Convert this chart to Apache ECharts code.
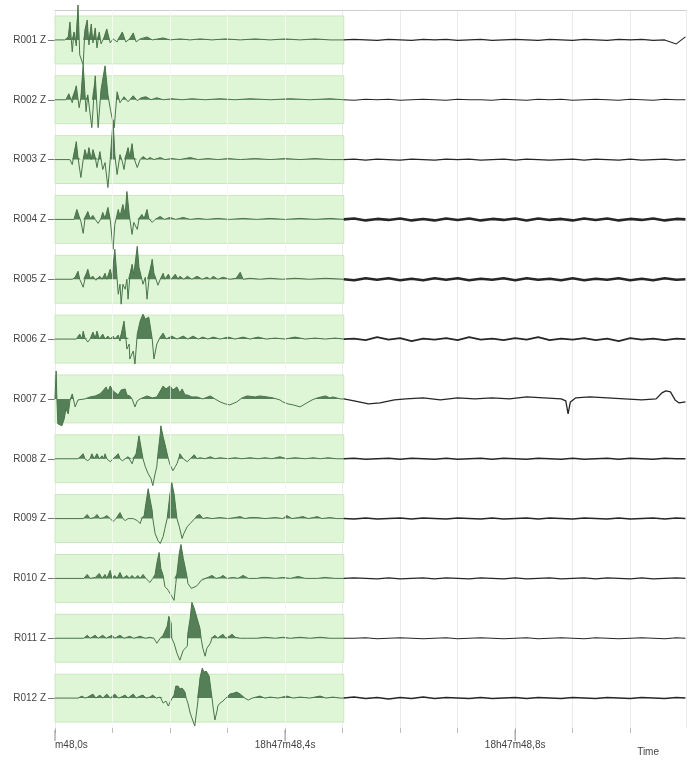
<!DOCTYPE html>
<html><head><meta charset="utf-8">
<script src="https://cdn.jsdelivr.net/npm/echarts@6/dist/echarts.min.js"></script>
<style>html,body{margin:0;padding:0;background:#fff}#c{width:694px;height:760px}</style>
</head><body><div id="c"></div>
<script>
// ---- data ----
const STATIONS = ['R001 Z','R002 Z','R003 Z','R004 Z','R005 Z','R006 Z','R007 Z','R008 Z','R009 Z','R010 Z','R011 Z','R012 Z'];
// x axis: milliseconds after 18h47m48,0s
const TICK_LABELS = {0:'m48,0s', 400:'18h47m48,4s', 800:'18h47m48,8s'};
const MAJOR_TICK_MS = [0, 400, 800];
const X_MAX_MS = 1097;
const WINDOW_END_MS = 502;   // end of highlighted window
const GAIN = 1/60;           // amplitude counts -> trace spacing

// windowed part of each trace: [ms, amplitude]
const R001 = [[0,0],[17,0],[23,3],[26,18],[30,-12],[33,8],[37,-6],[40,35],[43,-15],[49,-25],[52,10],[56,20],[59,-5],[63,16],[66,-3],[70,12],[73,-8],[77,8],[80,-4],[85,2],[90,11],[96,-3],[101,1],[108,-2],[117,8],[123,-2],[130,1],[136,7],[141,-2],[148,1],[160,3],[169,0],[179,1],[188,2],[200,0],[217,1],[235,0],[252,1],[273,0],[296,1],[322,0],[348,1],[374,0],[400,1],[426,0],[452,1],[478,0],[502,0]];
const R002 = [[0,0],[19,0],[24,6],[30,-3],[37,14],[42,-8],[45,2],[49,35],[54,-12],[57,5],[64,-28],[70,24],[75,-28],[80,10],[87,34],[92,5],[97,-12],[103,-28],[108,8],[113,-3],[120,3],[127,-2],[136,4],[143,-1],[150,2],[158,3],[167,0],[177,2],[188,0],[203,1],[221,0],[238,1],[261,0],[287,1],[313,0],[339,1],[374,0],[409,1],[443,0],[478,1],[502,0]];
const R003 = [[0,0],[26,0],[30,-5],[37,18],[40,2],[45,-18],[49,0],[52,10],[56,2],[59,12],[63,0],[66,10],[70,2],[73,-8],[78,8],[83,-10],[87,-3],[92,-28],[96,0],[101,40],[104,5],[108,-15],[113,5],[117,-2],[120,-10],[123,2],[127,12],[130,3],[134,16],[137,2],[143,-8],[148,0],[153,3],[160,0],[165,2],[172,0],[183,2],[191,0],[203,1],[217,0],[235,2],[249,0],[266,1],[283,0],[301,1],[322,0],[348,1],[374,0],[400,1],[426,0],[452,1],[478,0],[502,0]];
const R004 = [[0,0],[33,0],[38,10],[42,3],[45,-2],[49,-14],[52,0],[57,8],[61,1],[66,4],[70,0],[75,-4],[80,1],[83,7],[87,1],[92,12],[96,0],[101,-30],[104,-5],[110,10],[113,3],[118,15],[122,5],[125,28],[129,5],[134,-15],[137,-3],[143,-10],[146,0],[151,5],[155,1],[160,10],[163,1],[169,-3],[174,0],[183,3],[190,0],[200,2],[210,0],[223,2],[235,0],[249,1],[264,0],[282,1],[304,0],[327,1],[351,0],[374,1],[400,0],[426,1],[452,0],[478,1],[502,0]];
const R005 = [[0,0],[30,0],[35,2],[40,8],[43,0],[49,-8],[52,0],[57,10],[61,1],[66,3],[71,-1],[78,3],[82,0],[87,6],[90,0],[96,10],[99,2],[104,30],[108,0],[110,-15],[113,-5],[115,-25],[118,-5],[122,-10],[125,0],[127,-20],[130,2],[134,15],[137,5],[143,33],[146,12],[148,10],[151,0],[153,-5],[157,2],[160,-20],[163,-2],[169,20],[172,6],[174,5],[179,-6],[183,0],[188,6],[191,0],[197,5],[202,0],[209,5],[214,0],[217,3],[224,0],[230,3],[238,0],[247,3],[256,0],[264,2],[270,0],[275,3],[283,0],[292,2],[304,0],[315,1],[322,7],[327,0],[339,1],[356,0],[374,1],[395,0],[417,1],[443,0],[470,1],[502,0]];
const R006 = [[0,0],[37,0],[43,5],[47,0],[49,8],[52,1],[57,-3],[61,0],[66,7],[70,1],[73,8],[77,0],[83,5],[87,0],[92,3],[96,0],[101,3],[104,0],[110,4],[113,-2],[117,10],[120,18],[123,2],[125,-10],[129,-5],[130,-20],[136,-12],[139,-25],[143,5],[148,18],[153,25],[157,20],[160,18],[163,22],[165,15],[169,0],[172,-20],[176,-8],[177,-5],[183,2],[188,6],[193,0],[203,3],[212,0],[223,3],[231,0],[240,3],[249,0],[257,2],[266,0],[275,2],[287,0],[301,2],[313,0],[327,2],[339,0],[353,2],[367,0],[383,1],[400,0],[417,2],[435,0],[452,1],[470,0],[487,1],[502,0]];
const R007 = [[0,0],[2,28],[3,5],[5,-25],[12,-27],[16,-20],[19,-10],[23,-15],[26,-2],[30,5],[35,-8],[40,-1],[43,-3],[52,0],[61,2],[70,3],[78,5],[83,8],[89,12],[92,7],[96,13],[101,8],[104,6],[110,4],[115,9],[122,10],[125,4],[130,3],[134,0],[139,-8],[143,-2],[148,0],[160,3],[169,1],[177,2],[183,8],[188,13],[193,10],[200,13],[205,9],[212,12],[217,6],[221,10],[226,4],[230,4],[238,2],[247,2],[257,0],[270,3],[278,0],[287,-3],[296,-5],[304,-6],[316,-3],[325,1],[334,3],[348,2],[356,3],[369,2],[379,1],[391,-1],[396,-3],[405,-5],[414,-6],[426,-8],[438,-4],[447,-1],[456,1],[470,3],[478,1],[483,2],[496,0],[502,0]];
const R008 = [[0,0],[40,0],[43,1],[49,5],[52,0],[57,-2],[61,0],[64,5],[68,0],[73,5],[77,0],[82,3],[85,0],[87,5],[90,0],[96,-3],[101,0],[110,5],[113,0],[117,-2],[122,0],[127,2],[130,0],[134,-5],[137,0],[141,5],[143,12],[146,23],[150,10],[153,0],[157,-8],[162,-15],[167,-20],[170,-27],[174,-15],[177,-8],[179,5],[183,25],[184,33],[188,22],[191,15],[195,5],[197,0],[200,-6],[205,-12],[209,-8],[212,-5],[216,2],[217,5],[223,0],[230,-3],[235,0],[242,4],[247,0],[252,1],[261,0],[270,2],[278,0],[287,1],[301,0],[313,1],[325,0],[339,1],[353,0],[365,1],[377,0],[391,2],[403,0],[417,1],[435,0],[449,1],[461,0],[475,1],[489,0],[502,0]];
const R009 = [[0,0],[49,0],[56,4],[61,0],[68,1],[73,4],[78,0],[85,1],[90,3],[96,0],[101,-3],[106,0],[113,6],[118,0],[122,-2],[127,0],[130,2],[136,0],[143,-2],[148,-5],[151,0],[155,3],[158,15],[162,30],[165,20],[169,8],[170,0],[174,-15],[179,-22],[183,-25],[188,-18],[191,-10],[195,0],[197,10],[200,25],[203,36],[207,25],[210,10],[212,0],[216,-8],[221,-20],[224,-15],[230,-8],[235,-5],[238,-3],[243,0],[247,3],[252,4],[257,0],[264,1],[273,0],[287,1],[301,0],[313,1],[322,2],[330,0],[339,1],[351,1],[365,0],[383,1],[396,0],[403,3],[412,0],[423,1],[431,2],[440,0],[449,1],[456,2],[464,0],[478,1],[490,0],[502,0]];
const R010 = [[0,0],[50,0],[56,4],[61,0],[64,0],[70,1],[77,5],[82,0],[87,4],[90,0],[96,8],[99,0],[104,3],[108,0],[113,6],[118,0],[125,3],[129,0],[134,3],[139,0],[144,3],[148,0],[153,4],[158,0],[165,-4],[170,0],[174,4],[177,15],[181,26],[184,10],[188,3],[191,-8],[197,-12],[200,-15],[203,-18],[207,-22],[210,-5],[212,5],[216,25],[219,34],[223,20],[226,12],[230,0],[231,-5],[237,-10],[240,-10],[245,-8],[249,-6],[254,-2],[257,0],[266,1],[273,3],[280,0],[287,1],[292,3],[299,0],[310,1],[318,0],[327,3],[336,0],[351,0],[360,1],[369,1],[383,0],[396,1],[409,0],[423,2],[435,0],[456,0],[470,1],[487,0],[502,0]];
const R011 = [[0,0],[50,0],[56,3],[61,0],[70,3],[75,0],[83,3],[89,0],[99,3],[104,0],[113,3],[120,0],[130,2],[137,0],[148,2],[157,0],[165,1],[172,0],[177,-5],[183,0],[188,3],[191,5],[195,12],[198,22],[202,15],[203,0],[207,-5],[212,-15],[217,-22],[223,-12],[226,-10],[230,-8],[231,5],[235,20],[238,36],[242,30],[247,20],[252,10],[254,0],[257,-10],[261,-18],[264,-10],[270,-5],[273,0],[278,3],[283,0],[287,2],[292,4],[297,0],[303,2],[308,4],[313,1],[316,3],[322,0],[334,0],[351,0],[365,1],[383,0],[396,1],[409,0],[426,1],[443,0],[461,1],[478,0],[502,0]];
const R012 = [[0,0],[40,0],[47,2],[52,0],[57,1],[66,4],[71,0],[78,3],[83,0],[90,4],[96,0],[104,4],[110,0],[115,1],[122,3],[127,0],[136,4],[141,0],[148,2],[153,3],[158,0],[165,1],[170,3],[176,0],[183,1],[188,-5],[193,-3],[197,-8],[200,-4],[203,-5],[207,3],[210,12],[214,12],[217,9],[221,10],[223,12],[226,6],[228,0],[231,-5],[235,-15],[238,-20],[243,-28],[247,-10],[249,0],[252,20],[256,30],[259,26],[263,27],[264,25],[268,22],[270,20],[273,0],[275,-10],[278,-22],[282,-12],[283,-8],[287,-5],[292,-3],[297,0],[304,4],[311,5],[316,6],[322,4],[325,3],[330,0],[336,-2],[343,0],[350,1],[356,2],[365,0],[374,1],[388,0],[403,2],[414,0],[426,1],[443,0],[461,2],[471,0],[483,1],[496,0],[502,0]];

// part of each trace after the window, sampled on NOISE_T
const NOISE_T = [502,520,540,560,580,600,620,640,660,680,700,720,740,760,780,800,820,840,860,880,900,920,940,960,980,1000,1020,1040,1060,1080,1096];
const R001_TAIL = [0,0.5,0,-0.5,0.5,0,-0.5,0.5,0,0.5,-0.5,0,0.5,-0.5,0,0.5,0,-0.5,0.5,0,-0.5,0.5,0,-0.5,0.5,0,0.5,-0.5,0,-4,3];
const R002_TAIL = [0,-0.5,0.5,0,0.5,-0.5,0,0.5,0,-0.5,0.5,0,0,-0.5,0.5,0,-0.5,0.5,0,0.5,-0.5,0,0.5,0,-0.5,0.5,0,-0.5,0.5,0,0];
const R003_TAIL = [0,0.5,-0.5,0.5,0,-0.5,0.5,0,-0.5,0.5,0,0.5,-0.5,0,0.5,-0.5,0.5,0,-0.5,0,0.5,-0.5,0.5,0,-0.5,0.5,-0.5,0,0.5,-0.5,0];
const R004_TAIL = [0,1,-1,0.5,-0.5,1,-1,0.5,-1,1,-0.5,1,-1,0.5,-0.5,1,-1,1,-0.5,0.5,-1,1,-0.5,1,-1,0.5,-0.5,1,-1,0.5,0];
const R005_TAIL = [0,-1,1,-0.5,1,-1,0.5,-1,1,-0.5,1,-1,0.5,-0.5,1,-1,1,-0.5,0.5,-1,1,-1,0.5,-0.5,1,-1,0.5,-1,1,-0.5,0];
const R006_TAIL = [0,0.5,-1,2,-0.5,1,-2,0.5,-0.5,1,-1,2,-0.5,0.5,-1,1,-0.5,2,-1,0.5,-0.5,1,-1,0.5,-2,1,-0.5,0.5,-1,0.5,0];
const R007_TAIL = [[502,0],[520,-2],[545,-5],[565,-4],[590,-1],[610,0],[640,1],[670,-1],[700,1],[730,0],[760,1],[790,0],[820,2],[850,1],[880,0],[888,-2],[892,-15],[896,-3],[905,1],[930,2],[960,1],[990,0],[1020,-1],[1045,0],[1055,6],[1062,8],[1070,7],[1078,-1],[1085,-4],[1096,-3]];
const R008_TAIL = [0,0.5,-0.5,0,0.5,-0.5,0.5,0,-0.5,0.5,-0.5,0,0.5,-0.5,0.5,0,-0.5,0.5,0,-0.5,0.5,-0.5,0,0.5,-0.5,0.5,0,-0.5,0.5,0,0];
const R009_TAIL = [0,-0.5,0.5,-0.5,0,0.5,-0.5,0.5,0,-0.5,0.5,0,-0.5,0.5,-0.5,0,0.5,-0.5,0.5,0,-0.5,0.5,0,-0.5,0.5,-0.5,0,0.5,-0.5,0.5,0];
const R010_TAIL = [0,0.5,0,-0.5,0.5,-0.5,0,0.5,-0.5,0.5,0,-0.5,0.5,0,-0.5,0.5,-0.5,0,0.5,-0.5,0,0.5,-0.5,0.5,0,-0.5,0.5,-0.5,0,0.5,0];
const R011_TAIL = [0,0,0.5,-0.5,0,0.5,0,-0.5,0,0.5,-0.5,0,0.5,0,-0.5,0,0.5,-0.5,0,0.5,0,-0.5,0.5,0,-0.5,0,0.5,0,-0.5,0.5,0];
const R012_TAIL = [0,1,-0.5,0.5,-1,0.5,-0.5,1,-0.5,0.5,0,-0.5,0.5,-0.5,0,0.5,-0.5,0.5,0,-0.5,0.5,0,-0.5,0.5,0,-0.5,0.5,0,-0.5,0.5,0];

// ---- build ----
const EVENTS = [R001,R002,R003,R004,R005,R006,R007,R008,R009,R010,R011,R012];
const TAILS = [R001_TAIL,R002_TAIL,R003_TAIL,R004_TAIL,R005_TAIL,R006_TAIL,R007_TAIL,R008_TAIL,R009_TAIL,R010_TAIL,R011_TAIL,R012_TAIL];
const TAIL_WIDTH = [1.1,1.2,1.3,2.6,2.6,1.8,1.3,1.6,1.5,1.4,1.2,1.5];
const NEG_FILL_UNTIL = [0,0,0,0,0,0,24,0,0,0,0,0];
const Y_MIN = 0.5, Y_MAX = 12.5;

function traceY(base, a){ return base - a*GAIN; }
function fillData(ev, base, negUntil){
  const out = [];
  for (let k=0;k<ev.length;k++){
    const t = ev[k][0], a = ev[k][1];
    if (k>0){
      const t0 = ev[k-1][0], a0 = ev[k-1][1];
      if (a0*a < 0){
        const tc = t0 + (t-t0)*a0/(a0-a);
        out.push([tc, base]);
      }
    }
    const keep = a > 0 || t < negUntil;
    out.push([t, keep ? traceY(base,a) : base]);
  }
  return out;
}

const series = [];
series.push({
  type:'line', xAxisIndex:0, yAxisIndex:1, data:[], silent:true, z:1, symbol:'none',
  markArea:{silent:true, itemStyle:{color:'#def6d5', borderColor:'#c9e7bd', borderWidth:1},
    data: STATIONS.map((s,i)=>[{xAxis:0, yAxis:i+1-0.4},{xAxis:WINDOW_END_MS, yAxis:i+1+0.4}])}
});
series.push({
  type:'line', xAxisIndex:0, yAxisIndex:1, data:[], silent:true, z:2, symbol:'none',
  markLine:{silent:true, symbol:'none', label:{show:false},
    lineStyle:{color:'rgba(255,255,255,0.65)', width:1, type:'solid'},
    data:[100,200,300,400].map(v=>({xAxis:v}))}
});
STATIONS.forEach((name,i)=>{
  const base = i+1;
  const ev = EVENTS[i];
  series.push({
    type:'line', xAxisIndex:0, yAxisIndex:1, name:name+' fill', silent:true, clip:false,
    symbol:'none', z:3, data: fillData(ev, base, NEG_FILL_UNTIL[i]),
    lineStyle:{width:0}, areaStyle:{origin:base, color:'#557f57', opacity:1}
  });
  series.push({
    type:'line', xAxisIndex:0, yAxisIndex:1, name:name, silent:true, clip:false,
    symbol:'none', z:4, data: ev.map(p=>[p[0], traceY(base,p[1])]),
    lineStyle:{color:'#4a744a', width:1}
  });
  const tail = TAILS[i];
  const tailPts = Array.isArray(tail[0]) ? tail : NOISE_T.map((t,k)=>[t, tail[k]]);
  series.push({
    type:'line', xAxisIndex:0, yAxisIndex:1, name:name+' tail', silent:true, clip:false,
    symbol:'none', z:4, data: tailPts.map(p=>[p[0], traceY(base,p[1])]),
    lineStyle:{color:'#262626', width:TAIL_WIDTH[i]}
  });
});
// long major ticks below the axis
series.push({
  type:'custom', xAxisIndex:0, yAxisIndex:1, silent:true, clip:false, z:5,
  data: MAJOR_TICK_MS.map(t=>[t, Y_MAX]), encode:{x:0, y:1},
  renderItem:(params, api)=>{
    const p = api.coord([api.value(0), api.value(1)]);
    return {type:'line', shape:{x1:p[0], y1:p[1]+2, x2:p[0], y2:p[1]+13}, style:{stroke:'#888', lineWidth:1}};
  }
});

const chart = echarts.init(document.getElementById('c'), null, {renderer:'canvas'});
chart.setOption({
  animation:false,
  backgroundColor:'#ffffff',
  textStyle:{fontFamily:'Liberation Sans'},
  grid:{left:55, right:8, top:10, bottom:32},
  xAxis:[
    {type:'value', position:'bottom', min:0, max:X_MAX_MS, interval:100,
     axisLine:{show:false},
     axisTick:{show:true, length:5, lineStyle:{color:'#bdbdbd'}},
     axisLabel:{formatter:v=>TICK_LABELS[v]||'', fontSize:10, color:'#444', margin:12,
                fontFamily:'Liberation Sans', alignMinLabel:'left', showMaxLabel:false},
     splitLine:{show:true, lineStyle:{color:'#ebebeb', width:1}},
     name:'Time', nameLocation:'end', nameGap:0,
     nameTextStyle:{fontSize:10, color:'#444', fontFamily:'Liberation Sans', align:'right', verticalAlign:'top', padding:[19,27,0,0]}},
    {type:'value', position:'top', min:0, max:X_MAX_MS,
     axisLine:{show:true, lineStyle:{color:'#cfcfcf'}}, axisTick:{show:false}, axisLabel:{show:false}, splitLine:{show:false}}
  ],
  yAxis:[
    {type:'category', data:STATIONS, inverse:true, boundaryGap:true,
     axisLine:{show:false},
     axisTick:{show:true, alignWithLabel:true, length:7, lineStyle:{color:'#777'}},
     axisLabel:{fontSize:10, color:'#444', margin:9, fontFamily:'Liberation Sans'},
     splitLine:{show:false}},
    {type:'value', min:Y_MIN, max:Y_MAX, inverse:true, show:false}
  ],
  series: series
});
</script>
</body></html>
